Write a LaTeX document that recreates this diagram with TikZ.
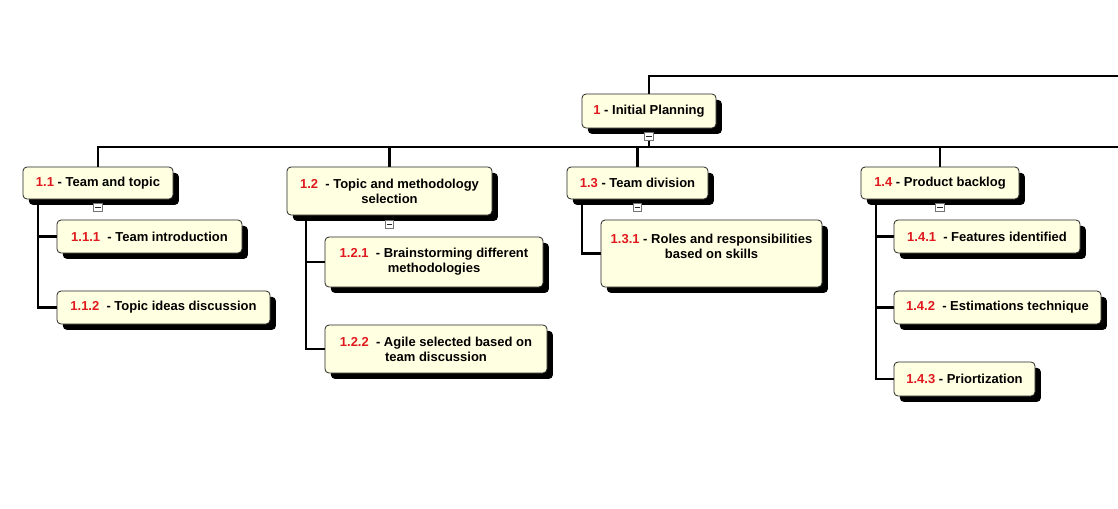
\documentclass[tikz,border=0pt]{standalone}
\usepackage{fontspec}
\setmainfont{Liberation Sans}
\usetikzlibrary{shadows,calc}
\pgfdeclarelayer{lines}
\pgfsetlayers{lines,main}
\definecolor{wbsfill}{HTML}{FFFFE1}
\definecolor{wbsnum}{HTML}{E0191E}
\newcommand\num[1]{\textcolor{wbsnum}{#1}}
% a work-breakdown box given by its corners (in px) and its text
\newcommand\wbsbox[6]{%
  \node[wbs, minimum width={(#4-#2)*0.75pt}, minimum height={(#5-#3)*0.75pt}]
    (#1) at ({(#2+#4)/2},{(#3+#5)/2}) {#6};}
\tikzset{
  wbs/.style={draw=black!85, line width=0.6pt, fill=wbsfill, rounded corners=3pt,
    inner sep=0pt, align=center,
    font=\fontsize{9.75}{11.25}\selectfont\bfseries,
    drop shadow={shadow xshift=4.4pt, shadow yshift=-4.4pt, fill=black, opacity=1}},
  link/.style={line width=1.6pt, black},
  collapse/.style={draw=black!55, fill=white, minimum size=6.5pt, inner sep=0pt,
    line width=0.6pt,
    path picture={\draw[black!85, line width=0.8pt]
      ([xshift=1.3pt]path picture bounding box.west) --
      ([xshift=-1.3pt]path picture bounding box.east);}}
}
\begin{document}
\begin{tikzpicture}[x=0.75pt,y=-0.75pt]
\useasboundingbox (0,0) rectangle (1118,508);

% boxes
\wbsbox{n1}{582}{94}{716}{128}{\num{1} - Initial Planning}
\wbsbox{n11}{23}{167}{173}{199}{\num{1.1} - Team and topic}
\wbsbox{n111}{57}{220}{242}{253}{\num{1.1.1}\ \ - Team introduction}
\wbsbox{n112}{57}{291}{270}{324}{\num{1.1.2}\ \ - Topic ideas discussion}
\wbsbox{n12}{287}{167}{492}{215}{\num{1.2}\ \ - Topic and methodology\\selection}
\wbsbox{n121}{325}{237}{543}{287}{\num{1.2.1}\ \ - Brainstorming different\\methodologies}
\wbsbox{n122}{325}{325}{547}{373}{\num{1.2.2}\ \ - Agile selected based on\\team discussion}
\wbsbox{n13}{567}{167}{708}{199}{\num{1.3} - Team division}
\wbsbox{n131}{601}{220}{822}{287}{\num{1.3.1} - Roles and responsibilities\\based on skills\\\mbox{}}
\wbsbox{n14}{861}{167}{1019}{199}{\num{1.4} - Product backlog}
\wbsbox{n141}{894}{220}{1080}{253}{\num{1.4.1}\ \ - Features identified}
\wbsbox{n142}{894}{291}{1101}{324}{\num{1.4.2}\ \ - Estimations technique}
\wbsbox{n143}{894}{362}{1035}{396}{\num{1.4.3} - Priortization}

% branches leaving to the right
\coordinate (topR) at (1118,76);
\coordinate (busR) at (1118,147);

\begin{pgfonlayer}{lines}
\fill[white] (0,0) rectangle (1118,508);
\draw[link] (n1.north) |- (topR);
\draw[link] (n1.south) -- (n1.south |- busR);
\draw[link] (busR) -| (n11.north);
\draw[link] (n12.north) -- (n12.north |- busR);
\draw[link] (n13.north) -- (n13.north |- busR);
\draw[link] (n14.north) -- (n14.north |- busR);

% child branches
\coordinate (s11) at ($(n11.south west)+(15,0)$);
\draw[link] (s11) |- (n112.west);
\draw[link] (s11 |- n111.west) -- (n111.west);
\coordinate (s12) at ($(n12.south west)+(19,0)$);
\draw[link] (s12) |- (n122.west);
\draw[link] (s12 |- n121.west) -- (n121.west);
\coordinate (s13) at ($(n13.south west)+(15,0)$);
\draw[link] (s13) |- (n131.west);
\coordinate (s14) at ($(n14.south west)+(15,0)$);
\draw[link] (s14) |- (n143.west);
\draw[link] (s14 |- n141.west) -- (n141.west);
\draw[link] (s14 |- n142.west) -- (n142.west);
\end{pgfonlayer}

% collapse markers
\node[collapse] (c1) at ($(n1.south)+(0,8)$) {};
\node[collapse] (c11) at ($(n11.south)+(0,8)$) {};
\node[collapse] (c12) at ($(n12.south)+(0,9)$) {};
\node[collapse] (c13) at ($(n13.south)+(0,8)$) {};
\node[collapse] (c14) at ($(n14.south)+(0,8)$) {};
\end{tikzpicture}
\end{document}
